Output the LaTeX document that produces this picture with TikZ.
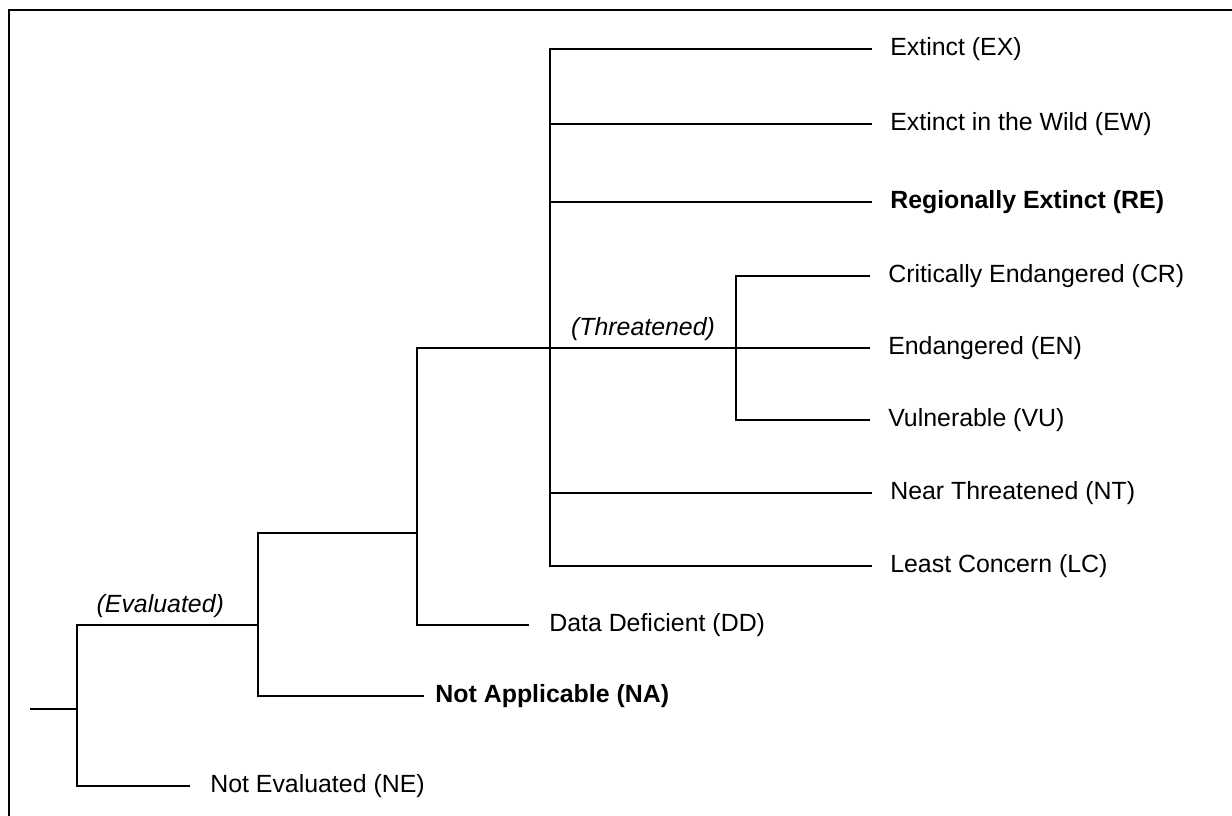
\documentclass[tikz,border=0pt]{standalone}
\usepackage{fontspec}
\setmainfont{Liberation Sans}
\tikzset{
	leaf/.style={anchor=west, inner xsep=0.45cm, inner ysep=0pt, font=\fontsize{17.7}{21}\selectfont},
	leafbold/.style={leaf, font=\fontsize{17.7}{21}\selectfont\bfseries},
	% italic labels above the branches
	group/.style={font=\fontsize{17.7}{21}\selectfont\itshape, inner sep=0.16cm},
	branch/.style={line width=1.1pt, black},
	frame/.style={line width=1.6pt, black},
}

\begin{document}
\begin{tikzpicture}[x=0.025cm, y=-0.025cm]
			\useasboundingbox (0,0) rectangle (1232,816);
			\clip (0,0) rectangle (1232,816);
			\draw[frame] (9,840) |- (1250,10);
			
			% branch points
			\coordinate (r0) at (30,709);
			\coordinate (j0) at (77,709);
			\coordinate (j1) at (258,625);
			\coordinate (j2) at (417,533);
			\coordinate (j3) at (550,348);
			\coordinate (j4) at (736,348);
			
			\node (ex) [leaf] at (872,49) {Extinct (EX)};
			\node (ew) [leaf] at (872,124) {Extinct in the Wild (EW)};
			\node (re) [leafbold] at (872,202) {Regionally Extinct (RE)};
			\node (cr) [leaf] at (870,276) {Critically Endangered (CR)};
			\node (en) [leaf] at (870,348) {Endangered (EN)};
			\node (vu) [leaf] at (870,420) {Vulnerable (VU)};
			\node (nt) [leaf] at (872,493) {Near Threatened (NT)};
			\node (lc) [leaf] at (872,566) {Least Concern (LC)};
			
			\node (dd) [leaf, inner xsep=0.5cm] at (529,625) {Data Deficient (DD)};
			\node (na) [leafbold, inner xsep=0.28cm] at (424,696) {Not Applicable (NA)};
			\node (ne) [leaf, inner xsep=0.5cm] at (190,786) {Not Evaluated (NE)};
			
			\begin{scope}[branch]
				\draw (r0) -- (j0);
				\draw (j0) |- (j1) node [group, pos=0.75, above, xshift=-0.18cm] {(Evaluated)};
				\draw (j0) |- (ne.west);
				
				\draw (j1) |- (j2);
				\draw (j1) |- (na.west);
				
				\draw (j2) |- (j3) -- (j4) node [group, midway, above] {(Threatened)};
				\draw (j2) |- (dd.west);
				
				\draw (j3) |- (ex.west);
				\draw (j3) |- (ew.west);
				\draw (j3) |- (re.west);
				\draw (j3) |- (nt.west);
				\draw (j3) |- (lc.west);
				
				\draw (j4) |- (cr.west);
				\draw (j4) -- (en.west);
				\draw (j4) |- (vu.west);
			\end{scope}
			
\end{tikzpicture}
\end{document}
